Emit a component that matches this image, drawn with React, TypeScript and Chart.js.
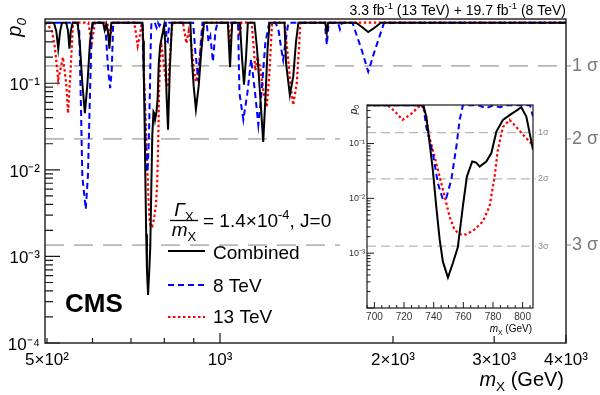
import React, { useEffect, useRef } from 'react';
import { Chart, registerables } from 'chart.js';

Chart.register(...registerables);

const FONT = '"Liberation Sans", Helvetica, Arial, sans-serif';

// ---------------- data (mass in GeV, local p0) ----------------
const combinedMass = [496, 514, 519, 523, 527, 531, 540, 544, 547, 550, 554, 565, 570, 576, 582, 588, 594, 600, 626, 630, 634, 638, 642, 647,
  733, 735, 737, 739.4, 741.7, 744, 746.2, 749.6, 753, 756.3, 759.7, 762.4, 766, 768.7, 771, 775.5, 778.9, 782.3, 786.7, 791.2, 795.8, 799.1, 802.5, 807, 812, 818, 825,
  888, 893, 900, 908, 918, 927, 938, 1032, 1036, 1041, 1046, 1050, 1083, 1092, 1101, 1110, 1118, 1148, 1160, 1175, 1189, 1200, 1210, 1220,
  1295, 1303, 1323, 1341, 1356, 1369, 1525, 1534, 1542, 1725, 1770, 1811, 1860, 1905, 4000];
const combinedP = [0.5, 0.5, 0.4, 0.25, 0.4, 0.5, 0.5, 0.4, 0.25, 0.4, 0.5, 0.5, 0.3, 0.1, 0.045, 0.1, 0.3, 0.5, 0.5, 0.41, 0.48, 0.4, 0.25, 0.5,
  0.5, 0.31, 0.117, 0.033, 0.0072, 0.0018, 0.0007, 0.00036, 0.00067, 0.0013, 0.0072, 0.025, 0.047, 0.045, 0.038, 0.047, 0.067, 0.165, 0.27, 0.33, 0.4, 0.46, 0.31, 0.077, 0.029, 0.15, 0.5,
  0.5, 0.2, 0.092, 0.05, 0.092, 0.22, 0.5, 0.5, 0.3, 0.153, 0.3, 0.5, 0.5, 0.2, 0.096, 0.2, 0.5, 0.5, 0.25, 0.07, 0.021, 0.07, 0.25, 0.5,
  0.5, 0.17, 0.073, 0.12, 0.3, 0.5, 0.5, 0.38, 0.5, 0.5, 0.44, 0.39, 0.44, 0.5, 0.5];

const tev8Mass = [496, 565, 569, 573, 576, 584, 589, 593, 598, 602, 631, 639, 644, 648, 652,
  733, 735, 739.4, 742.8, 746.2, 748.5, 751.9, 755.3, 757.5, 759.7, 770, 775.5, 780, 784.5, 790, 805, 807, 811, 816,
  898, 905, 917, 926, 932, 948, 955, 962, 972, 982, 990, 1075, 1081, 1098, 1116, 1133, 1151, 1166, 1181, 1199, 1218,
  1250, 1265, 1278, 1288, 1300, 1315, 1522, 1534, 1546, 1605, 1617, 1630, 1700, 1765, 1811, 1860, 1930, 4000];
const tev8P = [0.5, 0.5, 0.4, 0.05, 0.0084, 0.0035, 0.0084, 0.05, 0.4, 0.5, 0.5, 0.14, 0.088, 0.14, 0.5,
  0.5, 0.2, 0.067, 0.019, 0.0095, 0.0102, 0.022, 0.088, 0.27, 0.5, 0.5, 0.44, 0.5, 0.46, 0.5, 0.5, 0.31, 0.3, 0.5,
  0.5, 0.25, 0.104, 0.3, 0.5, 0.5, 0.3, 0.35, 0.177, 0.4, 0.5, 0.5, 0.077, 0.038, 0.077, 0.19, 0.077, 0.033, 0.077, 0.29, 0.5,
  0.5, 0.4, 0.25, 0.186, 0.3, 0.5, 0.5, 0.277, 0.5, 0.5, 0.42, 0.5, 0.5, 0.24, 0.136, 0.24, 0.5, 0.5];

const tev13Mass = [496, 502, 510, 516, 523, 529, 533, 540, 544, 550, 555, 590, 598, 606, 636, 644, 652,
  709, 714, 719, 725, 731, 733, 735, 737, 740.6, 744, 747.3, 750.7, 754, 757.5, 762, 767.6, 773.2, 777.7, 781.1, 783.3, 786.7, 791.2, 795.8, 800.2, 805.9, 812, 818, 826,
  862, 874, 882, 890, 900, 908, 918, 928, 935, 1033, 1041, 1050, 1075, 1081, 1090,
  1135, 1145, 1152, 1162, 1175, 1190, 1206, 1218, 1232, 1295, 1313, 1328, 1341, 1360, 1372, 1380, 4000];
const tev13P = [0.5, 0.47, 0.4, 0.26, 0.11, 0.156, 0.2, 0.1, 0.045, 0.156, 0.5, 0.5, 0.29, 0.5, 0.5, 0.35, 0.5,
  0.5, 0.38, 0.27, 0.35, 0.5, 0.45, 0.31, 0.134, 0.058, 0.025, 0.011, 0.0047, 0.0027, 0.0022, 0.0022, 0.0027, 0.0038, 0.0072, 0.025, 0.077, 0.2, 0.27, 0.2, 0.145, 0.1, 0.09, 0.2, 0.5,
  0.5, 0.29, 0.4, 0.3, 0.15, 0.104, 0.15, 0.3, 0.5, 0.5, 0.29, 0.5, 0.5, 0.35, 0.5,
  0.5, 0.25, 0.14, 0.2, 0.15, 0.08, 0.053, 0.12, 0.5, 0.5, 0.2, 0.09, 0.056, 0.1, 0.25, 0.5, 0.5];

const legendLabels = ['Combined', '8 TeV', '13 TeV'];
const sigmaNames = ['1 σ', '2 σ', '3 σ'];
const insetSigmaNames = ['1σ', '2σ', '3σ'];
const sigmaP = [0.1587, 0.02275, 0.00135];

const mainXTicks = [500, 1000, 2000, 3000, 4000];
const mainXLabels = ['5×10²', '10³', '2×10³', '3×10³', '4×10³'];
const mainYTicks = [1e-4, 1e-3, 1e-2, 1e-1];
const mainYLabels = ['10⁻⁴', '10⁻³', '10⁻²', '10⁻¹'];
const insetXTicks = [700, 720, 740, 760, 780, 800];
const insetXLabels = ['700', '720', '740', '760', '780', '800'];
const insetYTicks = [1e-3, 1e-2, 1e-1];
const insetYLabels = ['10⁻³', '10⁻²', '10⁻¹'];

// ---------------- styles ----------------
const seriesStyle = [
  { color: '#000000', dash: [] as number[], width: 2 },
  { color: '#0000ff', dash: [6, 4], width: 2 },
  { color: '#ff0000', dash: [2.5, 2.5], width: 2.2 },
];

const INSET = { left: 340, top: 96, width: 218, height: 240 };

type Seg = { t: string; it?: boolean; b?: boolean; sub?: boolean; sup?: boolean };
function segFont(s: Seg, size: number) {
  const sz = s.sub || s.sup ? size * 0.68 : size;
  return `${s.it ? 'italic ' : ''}${s.b ? 'bold ' : ''}${sz}px ${FONT}`;
}
function drawRich(ctx: CanvasRenderingContext2D, segs: Seg[], x: number, y: number, size: number, align: 'left' | 'right' | 'center') {
  let w = 0;
  segs.forEach((s) => { ctx.font = segFont(s, size); w += ctx.measureText(s.t).width; });
  let cx = align === 'right' ? x - w : align === 'center' ? x - w / 2 : x;
  ctx.textAlign = 'left';
  ctx.textBaseline = 'alphabetic';
  segs.forEach((s) => {
    ctx.font = segFont(s, size);
    const dy = s.sup ? -size * 0.4 : s.sub ? size * 0.25 : 0;
    ctx.fillText(s.t, cx, y + dy);
    cx += ctx.measureText(s.t).width;
  });
}

function lookup(v: number, ticks: number[], labels: string[]) {
  const i = ticks.findIndex((t) => Math.abs(t - v) <= Math.abs(t) * 1e-6);
  return i >= 0 ? labels[i] : '';
}

function makeDatasets() {
  const src = [
    [combinedMass, combinedP],
    [tev8Mass, tev8P],
    [tev13Mass, tev13P],
  ];
  return src.map(([m, p], i) => ({
    label: legendLabels[i],
    data: m.map((x, k) => ({ x, y: p[k] })),
    borderColor: seriesStyle[i].color,
    borderWidth: seriesStyle[i].width,
    borderDash: seriesStyle[i].dash,
    pointRadius: 0,
    tension: 0,
    fill: false,
  }));
}

function drawSigmaLines(chart: any, dash: number[], width: number, ext: number) {
  const { ctx, chartArea: a } = chart;
  const y = chart.scales.y;
  ctx.save();
  ctx.strokeStyle = '#b8b8b8';
  ctx.lineWidth = width;
  ctx.setLineDash(dash);
  sigmaP.forEach((p) => {
    const py = y.getPixelForValue(p);
    ctx.beginPath();
    ctx.moveTo(a.left, py);
    ctx.lineTo(a.right + ext, py);
    ctx.stroke();
  });
  ctx.restore();
}

const mainDecor = {
  id: 'mainDecor',
  beforeDatasetsDraw(chart: any) {
    drawSigmaLines(chart, [19, 10], 1.6, 5);
  },
  afterDatasetsDraw(chart: any) {
    const { ctx, chartArea: a } = chart;
    const x = chart.scales.x;
    const y = chart.scales.y;
    ctx.save();
    ctx.setLineDash([]);
    ctx.strokeStyle = '#1a1a1a';
    ctx.lineWidth = 1.4;
    ctx.strokeRect(a.left, a.top, a.right - a.left, a.bottom - a.top);
    // y ticks (inward)
    ctx.lineWidth = 1.2;
    ctx.beginPath();
    for (let e = -4; e <= -1; e++) {
      for (let k = 1; k <= 9; k++) {
        const v = k * Math.pow(10, e);
        if (v < y.min * 0.999 || v > y.max) continue;
        const py = y.getPixelForValue(v);
        const len = k === 1 ? 15 : 8;
        ctx.moveTo(a.left, py);
        ctx.lineTo(a.left + len, py);
      }
    }
    // x ticks (inward, upward)
    for (let e = 2; e <= 3; e++) {
      for (let k = 1; k <= 9; k++) {
        const v = k * Math.pow(10, e);
        if (v < x.min || v > x.max * 1.001) continue;
        const px = x.getPixelForValue(v);
        let len = 5;
        if (k === 1) len = 10;
        else if (e === 3) len = 8;
        ctx.moveTo(px, a.bottom);
        ctx.lineTo(px, a.bottom - len);
      }
    }
    ctx.stroke();

    // sigma labels
    ctx.fillStyle = '#7a7a7a';
    ctx.font = `18px ${FONT}`;
    ctx.textAlign = 'left';
    ctx.textBaseline = 'middle';
    sigmaP.forEach((p, i) => ctx.fillText(sigmaNames[i], a.right + 6, y.getPixelForValue(p)));

    ctx.fillStyle = '#000';
    // lumi label
    drawRich(ctx, [{ t: '3.3 fb' }, { t: '-1', sup: true }, { t: ' (13 TeV) + 19.7 fb' }, { t: '-1', sup: true }, { t: ' (8 TeV)' }], a.right, 15, 14, 'right');
    // x title
    drawRich(ctx, [{ t: 'm', it: true }, { t: 'X', sub: true }, { t: ' (GeV)' }], 564, 386, 20, 'right');
    // y title
    ctx.save();
    ctx.translate(21, 18);
    ctx.rotate(-Math.PI / 2);
    drawRich(ctx, [{ t: 'p', it: true }, { t: '0', sub: true, it: true }], 0, 0, 20, 'right');
    ctx.restore();

    // Gamma / m label
    drawRich(ctx, [{ t: 'Γ', it: true }, { t: 'X', sub: true }], 184, 216, 19, 'center');
    ctx.strokeStyle = '#000';
    ctx.lineWidth = 1.3;
    ctx.beginPath();
    ctx.moveTo(170, 220.5);
    ctx.lineTo(198, 220.5);
    ctx.stroke();
    drawRich(ctx, [{ t: 'm', it: true }, { t: 'X', sub: true }], 184, 236, 19, 'center');
    drawRich(ctx, [{ t: '= 1.4×10' }, { t: '-4', sup: true }, { t: ', J=0' }], 203, 227, 19, 'left');

    // legend
    const ly = [251, 285, 317];
    const ty = [258.5, 291.5, 323];
    seriesStyle.forEach((s, i) => {
      ctx.strokeStyle = s.color;
      ctx.lineWidth = s.width;
      ctx.setLineDash(s.dash);
      ctx.beginPath();
      ctx.moveTo(168, ly[i]);
      ctx.lineTo(205, ly[i]);
      ctx.stroke();
      ctx.setLineDash([]);
      ctx.fillStyle = '#000';
      ctx.font = `19px ${FONT}`;
      ctx.textAlign = 'left';
      ctx.textBaseline = 'alphabetic';
      ctx.fillText(legendLabels[i], 213, ty[i]);
    });

    // CMS
    ctx.font = `bold 26px ${FONT}`;
    ctx.fillStyle = '#000';
    ctx.fillText('CMS', 65, 312);
    ctx.restore();
  },
};

const insetDecor = {
  id: 'insetDecor',
  beforeDraw(chart: any) {
    const { ctx, width, height } = chart;
    ctx.save();
    ctx.fillStyle = '#fff';
    ctx.fillRect(0, 0, width, height);
    ctx.restore();
  },
  beforeDatasetsDraw(chart: any) {
    drawSigmaLines(chart, [9, 5], 1.2, 3);
  },
  afterDatasetsDraw(chart: any) {
    const { ctx, chartArea: a } = chart;
    const x = chart.scales.x;
    const y = chart.scales.y;
    ctx.save();
    ctx.setLineDash([]);
    ctx.strokeStyle = '#1a1a1a';
    ctx.lineWidth = 1.2;
    ctx.strokeRect(a.left, a.top, a.right - a.left, a.bottom - a.top);
    ctx.lineWidth = 1;
    ctx.beginPath();
    for (let e = -4; e <= -1; e++) {
      for (let k = 1; k <= 9; k++) {
        const v = k * Math.pow(10, e);
        if (v < y.min * 0.999 || v > y.max) continue;
        const py = y.getPixelForValue(v);
        const len = k === 1 ? 7 : 3.5;
        ctx.moveTo(a.left, py);
        ctx.lineTo(a.left + len, py);
      }
    }
    for (let m = 695; m <= 807; m += 5) {
      if (m < x.min || m > x.max) continue;
      const px = x.getPixelForValue(m);
      const len = m % 20 === 0 ? 6 : 3;
      ctx.moveTo(px, a.bottom);
      ctx.lineTo(px, a.bottom - len);
    }
    ctx.stroke();
    ctx.fillStyle = '#8a8a8a';
    ctx.font = `9px ${FONT}`;
    ctx.textAlign = 'left';
    ctx.textBaseline = 'middle';
    sigmaP.forEach((p, i) => ctx.fillText(insetSigmaNames[i], a.right + 5, y.getPixelForValue(p)));
    ctx.fillStyle = '#000';
    drawRich(ctx, [{ t: 'm', it: true }, { t: 'X', sub: true }, { t: ' (GeV)' }], a.right - 1, 236, 10, 'right');
    ctx.save();
    ctx.translate(16.5, 9);
    ctx.rotate(-Math.PI / 2);
    drawRich(ctx, [{ t: 'p', it: true }, { t: '0', sub: true, it: true }], 0, 0, 10, 'right');
    ctx.restore();
    ctx.restore();
  },
};

function mainConfig(): any {
  return {
    type: 'line',
    data: { datasets: makeDatasets() },
    plugins: [mainDecor],
    options: {
      responsive: false,
      animation: false,
      devicePixelRatio: 1,
      layout: { padding: { top: 19, right: 34, left: 0, bottom: 0 } },
      plugins: { legend: { display: false }, tooltip: { enabled: false } },
      scales: {
        x: {
          type: 'logarithmic',
          min: 496,
          max: 4000,
          grid: { display: false, drawTicks: false },
          border: { display: false },
          afterBuildTicks: (s: any) => { s.ticks = mainXTicks.map((v) => ({ value: v })); },
          afterFit: (s: any) => { s.height = 52; },
          ticks: {
            autoSkip: false, maxRotation: 0, padding: 7, color: '#000',
            font: { family: FONT, size: 17 },
            callback: (v: any) => lookup(Number(v), mainXTicks, mainXLabels),
          },
        },
        y: {
          type: 'logarithmic',
          min: 1e-4,
          max: 0.552,
          grid: { display: false, drawTicks: false },
          border: { display: false },
          afterBuildTicks: (s: any) => { s.ticks = mainYTicks.map((v) => ({ value: v })); },
          afterFit: (s: any) => { s.width = 45; },
          ticks: {
            autoSkip: false, padding: 5, labelOffset: 2, color: '#000',
            font: { family: FONT, size: 17 },
            callback: (v: any) => lookup(Number(v), mainYTicks, mainYLabels),
          },
        },
      },
    },
  };
}

function insetConfig(): any {
  return {
    type: 'line',
    data: { datasets: makeDatasets() },
    plugins: [insetDecor],
    options: {
      responsive: false,
      animation: false,
      devicePixelRatio: 1,
      layout: { padding: { top: 9, right: 25, left: 0, bottom: 0 } },
      plugins: { legend: { display: false }, tooltip: { enabled: false } },
      scales: {
        x: {
          type: 'linear',
          min: 695,
          max: 807,
          grid: { display: false, drawTicks: false },
          border: { display: false },
          afterBuildTicks: (s: any) => { s.ticks = insetXTicks.map((v) => ({ value: v })); },
          afterFit: (s: any) => { s.height = 28; },
          ticks: {
            autoSkip: false, maxRotation: 0, padding: 3, color: '#333',
            font: { family: FONT, size: 10 },
            callback: (v: any) => lookup(Number(v), insetXTicks, insetXLabels),
          },
        },
        y: {
          type: 'logarithmic',
          min: 1e-4,
          max: 0.505,
          grid: { display: false, drawTicks: false },
          border: { display: false },
          afterBuildTicks: (s: any) => { s.ticks = insetYTicks.map((v) => ({ value: v })); },
          afterFit: (s: any) => { s.width = 27; },
          ticks: {
            autoSkip: false, padding: 2, color: '#333',
            font: { family: FONT, size: 9 },
            callback: (v: any) => lookup(Number(v), insetYTicks, insetYLabels),
          },
        },
      },
    },
  };
}

export default function App() {
  const mainRef = useRef<HTMLCanvasElement>(null);
  const insetRef = useRef<HTMLCanvasElement>(null);
  useEffect(() => {
    const main = new Chart(mainRef.current as HTMLCanvasElement, mainConfig());
    const inset = new Chart(insetRef.current as HTMLCanvasElement, insetConfig());
    return () => {
      main.destroy();
      inset.destroy();
    };
  }, []);
  return (
    <div style={{ position: 'absolute', left: 0, top: 0, width: 600, height: 395, background: '#fff' }}>
      <canvas ref={mainRef} width={600} height={395} style={{ position: 'absolute', left: 0, top: 0, width: 600, height: 395 }} />
      <canvas
        ref={insetRef}
        width={INSET.width}
        height={INSET.height}
        style={{ position: 'absolute', left: INSET.left, top: INSET.top, width: INSET.width, height: INSET.height }}
      />
    </div>
  );
}
